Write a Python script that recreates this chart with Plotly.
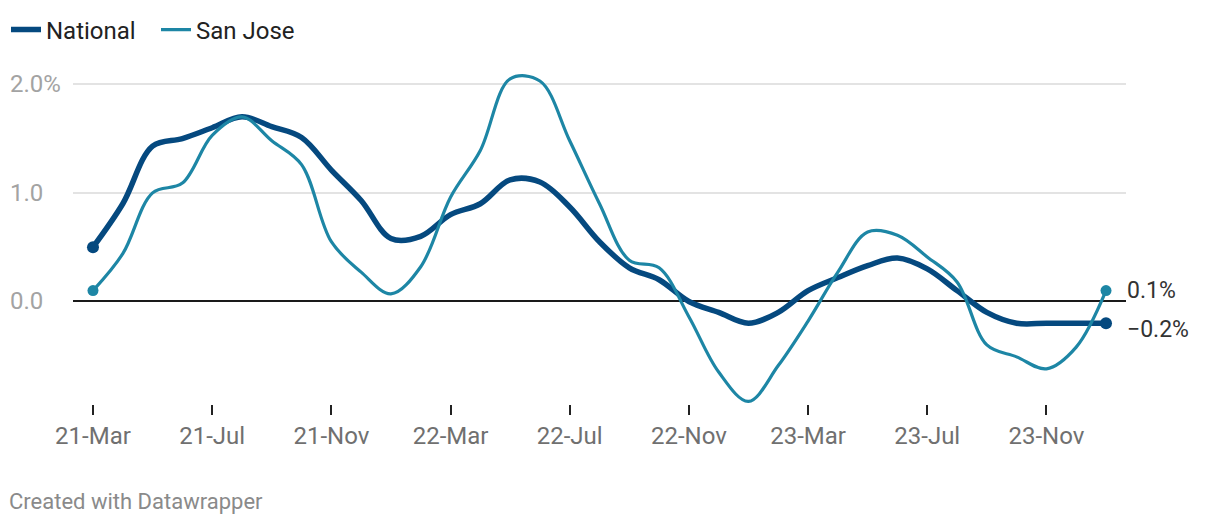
import plotly.graph_objects as go

# monthly change, 21-Mar .. 24-Jan
months = ["21-Mar", "21-Apr", "21-May", "21-Jun", "21-Jul", "21-Aug", "21-Sep", "21-Oct",
          "21-Nov", "21-Dec", "22-Jan", "22-Feb", "22-Mar", "22-Apr", "22-May", "22-Jun",
          "22-Jul", "22-Aug", "22-Sep", "22-Oct", "22-Nov", "22-Dec", "23-Jan", "23-Feb",
          "23-Mar", "23-Apr", "23-May", "23-Jun", "23-Jul", "23-Aug", "23-Sep", "23-Oct",
          "23-Nov", "23-Dec", "24-Jan"]
national = [0.5, 0.9, 1.43, 1.5, 1.6, 1.7, 1.61, 1.51, 1.21, 0.93, 0.58, 0.6,
            0.8, 0.9, 1.12, 1.1, 0.87, 0.55, 0.31, 0.2, 0.0, -0.1, -0.2, -0.1,
            0.1, 0.22, 0.33, 0.4, 0.3, 0.1, -0.1, -0.2, -0.2, -0.2, -0.2]
san_jose = [0.1, 0.44, 1.0, 1.09, 1.53, 1.7, 1.48, 1.26, 0.55, 0.27, 0.07, 0.32,
            0.96, 1.39, 2.05, 2.03, 1.48, 0.9, 0.38, 0.31, -0.14, -0.65, -0.92, -0.59,
            -0.18, 0.27, 0.64, 0.61, 0.41, 0.18, -0.4, -0.51, -0.62, -0.42, 0.1]
end_labels = ["\u22120.2%", "0.1%"]
y_ticks = [0, 1, 2]
y_ticktext = ["0.0", "1.0", "2.0%"]

NAT_COLOR = "#05497f"
SJ_COLOR = "#1d86a5"
FONT = "Roboto"

fig = go.Figure()
for name, vals, color, width, dot in [("National", national, NAT_COLOR, 5.5, 12),
                                      ("San Jose", san_jose, SJ_COLOR, 3.2, 11)]:
    fig.add_trace(go.Scatter(
        x=months, y=vals, name=name, mode="lines",
        line=dict(color=color, width=width, shape="spline", smoothing=1.0),
    ))
    # dots on first and last point
    fig.add_trace(go.Scatter(
        x=[months[0], months[-1]], y=[vals[0], vals[-1]], mode="markers",
        marker=dict(color=color, size=dot), showlegend=False, hoverinfo="skip",
    ))

# end value labels
for vals, text, shift in [(national, end_labels[0], -6), (san_jose, end_labels[1], 0)]:
    fig.add_annotation(x=months[-1], y=vals[-1], text=text, showarrow=False,
                       xanchor="left", yanchor="middle", xshift=19, yshift=shift,
                       font=dict(family=FONT, size=23, color="#333333"))

# y labels sit left-aligned at the chart edge
for v, t in zip(y_ticks, y_ticktext):
    fig.add_annotation(x=-0.0598, xref="paper", y=v, yref="y", text=t, showarrow=False,
                       xanchor="left", yanchor="middle", xshift=-2,
                       font=dict(family=FONT, size=24, color="#a3a3a3"))

fig.add_annotation(x=-0.0598, xref="paper", y=-0.2865, yref="paper", yanchor="middle",
                   xanchor="left", xshift=-3, text="Created with Datawrapper", showarrow=False,
                   font=dict(family=FONT, size=22, color="#8a8a8a"))

fig.update_layout(
    width=1220, height=526,
    margin=dict(l=73, r=94, t=62, b=122, autoexpand=False),
    paper_bgcolor="white", plot_bgcolor="white",
    font=dict(family=FONT, color="#222222"),
    showlegend=True,
    legend=dict(orientation="h", xref="container", yref="container",
                x=6 / 1220, xanchor="left", y=1 - 30 / 526, yanchor="middle",
                font=dict(size=24, color="#222222"), entrywidth=105,
                bgcolor="rgba(0,0,0,0)"),
    xaxis=dict(
        type="category", range=[-0.671, 34.671],
        tickvals=months[::4], ticks="outside", ticklen=10, tickwidth=2,
        tickcolor="#222222", showgrid=False, showline=False, zeroline=False,
        tickfont=dict(family=FONT, size=24, color="#707070"),
    ),
    yaxis=dict(
        range=[-0.944, 2.205], tickvals=y_ticks, showticklabels=False,
        showgrid=True, gridcolor="#e3e3e3", gridwidth=1.5,
        zeroline=True, zerolinecolor="#1a1a1a", zerolinewidth=1.5,
    ),
)

fig.write_html("out.html", config={"displayModeBar": False},
               post_script="document.body.style.margin='0';")
